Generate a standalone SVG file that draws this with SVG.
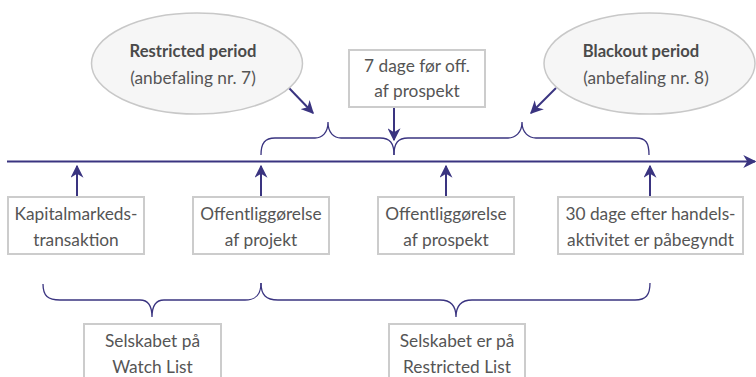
<svg xmlns="http://www.w3.org/2000/svg" width="756" height="377" viewBox="0 0 756 377">
<style>
.t{font-family:Lato,"Open Sans","DejaVu Sans",sans-serif;font-size:17.3px;fill:#555;text-anchor:middle}
.b{font-weight:bold;font-size:16.6px;fill:#4a4a4a}
.box{fill:#fff;stroke:#cccccc;stroke-width:2}
.ell{fill:#f6f6f6;stroke:#c8c8c8;stroke-width:1.5}
.ln{fill:none;stroke:#3a3480;stroke-width:2}
.br{fill:none;stroke:#3a3480;stroke-width:1.3}
</style>
<defs>
<marker id="ah2" viewBox="0 0 10 10" refX="9" refY="5" markerWidth="13" markerHeight="13" markerUnits="userSpaceOnUse" orient="auto">
<path d="M0,0 L10,5 L0,10 L3,5 z" fill="#3a3480"/>
</marker>
</defs>
<g id="connectors">
<line class="ln" x1="7" y1="161.5" x2="755" y2="161.5" marker-end="url(#ah2)"/>
<line class="ln" x1="77" y1="197" x2="77" y2="166" marker-end="url(#ah2)"/>
<line class="ln" x1="261" y1="197" x2="261" y2="166" marker-end="url(#ah2)"/>
<line class="ln" x1="446" y1="197" x2="446" y2="166" marker-end="url(#ah2)"/>
<line class="ln" x1="650" y1="197" x2="650" y2="166" marker-end="url(#ah2)"/>
<line class="ln" x1="394" y1="108" x2="394" y2="140" marker-end="url(#ah2)"/>
<line class="ln" x1="289" y1="88" x2="313" y2="113" marker-end="url(#ah2)"/>
<line class="ln" x1="556" y1="88" x2="531" y2="113" marker-end="url(#ah2)"/>
<path class="br" d="M261,155 C261,143 265,138 275,138 L315,138 C322,138 328,133 328,122 C328,133 334,138 341,138 L380,138 C390,138 394,143 394,155"/>
<path class="br" d="M394,155 C394,143 398,138 408,138 L508,138 C515,138 522,133 522,122 C522,133 529,138 536,138 L636,138 C646,138 649,143 649,155"/>
<path class="br" d="M43,284 C43,296 48,300 60,300 L140,300 C147,300 152,305 152,317 C152,305 157,300 164,300 L245,300 C256,300 261,295 261,283"/>
<path class="br" d="M261,283 C261,295 266,300 278,300 L440,300 C450,300 456,305 456,317 C456,305 462,300 472,300 L635,300 C646,300 650,295 650,283"/>
</g>
<g id="restricted-period">
<ellipse class="ell" cx="197" cy="63.5" rx="105.5" ry="50.5"/>
<text class="t b" x="193" y="57">Restricted period</text>
<text class="t" x="193" y="84">(anbefaling nr. 7)</text>
</g>
<g id="blackout-period">
<ellipse class="ell" cx="649.5" cy="63.5" rx="105.5" ry="50.5"/>
<text class="t b" x="641" y="57">Blackout period</text>
<text class="t" x="646" y="84">(anbefaling nr. 8)</text>
</g>
<g id="dage-foer">
<rect class="box" x="349" y="50" width="136" height="57"/>
<text class="t" x="417" y="72">7 dage før off.</text>
<text class="t" x="417" y="97">af prospekt</text>
</g>
<g id="kapital">
<rect class="box" x="8" y="197" width="136" height="57"/>
<text class="t" x="76" y="220">Kapitalmarkeds-</text>
<text class="t" x="76" y="246">transaktion</text>
</g>
<g id="off-projekt">
<rect class="box" x="193" y="197" width="136" height="57"/>
<text class="t" x="261" y="220">Offentliggørelse</text>
<text class="t" x="261" y="246">af projekt</text>
</g>
<g id="off-prospekt">
<rect class="box" x="378" y="197" width="136" height="57"/>
<text class="t" x="446" y="220">Offentliggørelse</text>
<text class="t" x="446" y="246">af prospekt</text>
</g>
<g id="dage-efter">
<rect class="box" x="558" y="197" width="185" height="57"/>
<text class="t" x="650.5" y="220">30 dage efter handels-</text>
<text class="t" x="650.5" y="246">aktivitet er påbegyndt</text>
</g>
<g id="watch-list">
<rect class="box" x="84" y="324" width="137" height="60"/>
<text class="t" x="152.5" y="347">Selskabet på</text>
<text class="t" x="152.5" y="373">Watch List</text>
</g>
<g id="restricted-list">
<rect class="box" x="389" y="324" width="136" height="60"/>
<text class="t" x="457" y="347">Selskabet er på</text>
<text class="t" x="457" y="373">Restricted List</text>
</g>
</svg>
